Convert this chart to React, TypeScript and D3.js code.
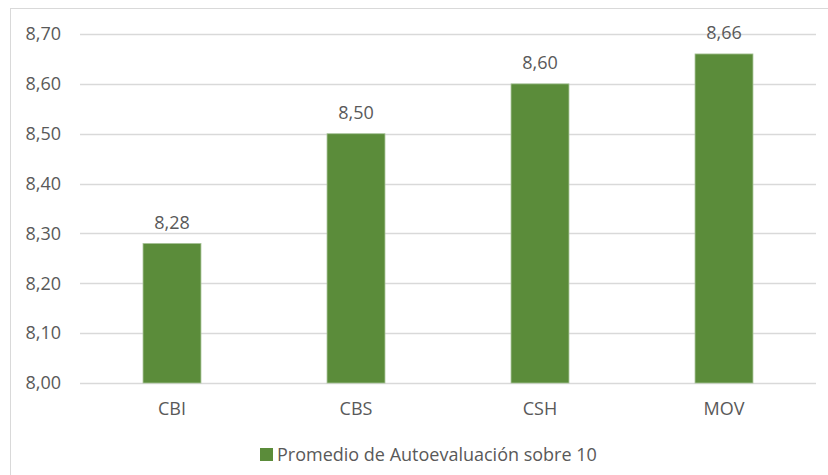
import { scaleBand, scaleLinear, range as d3range, format } from "d3";

const categories = ["CBI", "CBS", "CSH", "MOV"];
const values = [8.28, 8.5, 8.6, 8.66];
const seriesName = "Promedio de Autoevaluación sobre 10";
const yTicks = [8.0, 8.1, 8.2, 8.3, 8.4, 8.5, 8.6, 8.7];

const WIDTH = 828;
const HEIGHT = 475;
const PLOT = { left: 80, right: 816, top: 34, bottom: 383 };
const FONT = "'Open Sans', sans-serif";
const TEXT = "#595959";
const GRID = "#d9d9d9";
const BAR = "#5b8c3a";
const FS = 18;

const fmt = (v: number) => format(".2f")(v).replace(".", ",");

export default function App() {
  const x = scaleBand<string>()
    .domain(categories)
    .range([PLOT.left, PLOT.right])
    .paddingInner(0.685)
    .paddingOuter(0.3425);
  const y = scaleLinear().domain([8.0, 8.7]).range([PLOT.bottom, PLOT.top]);

  return (
    <div style={{ position: "absolute", left: 0, top: 0 }}>
      <svg width={WIDTH} height={HEIGHT} style={{ display: "block", background: "#fff" }} fontFamily={FONT}>
        {/* chart frame */}
        <rect x={10.5} y={8.5} width={830} height={480} fill="none" stroke={GRID} strokeWidth={1} />

        {/* gridlines + y labels */}
        {yTicks.map((t) => (
          <g key={t}>
            <line x1={PLOT.left} x2={PLOT.right} y1={Math.round(y(t)) + 0.5} y2={Math.round(y(t)) + 0.5} stroke={GRID} strokeWidth={1.3} />
            <text x={61} y={y(t)} dy="0.35em" textAnchor="end" fontSize={FS} fill={TEXT}>
              {fmt(t)}
            </text>
          </g>
        ))}

        {/* bars */}
        {d3range(categories.length).map((i) => {
          const c = categories[i];
          const v = values[i];
          const bx = x(c) ?? 0;
          const cx = bx + x.bandwidth() / 2;
          return (
            <g key={c}>
              <rect
                x={bx}
                y={y(v)}
                width={x.bandwidth()}
                height={y(8.0) - y(v)}
                fill={BAR}
                stroke="#a9c49a"
                strokeWidth={0.8}
              />
              <text x={cx} y={y(v) - 21} dy="0.35em" textAnchor="middle" fontSize={FS} fill={TEXT}>
                {fmt(v)}
              </text>
              <text x={cx} y={409} dy="0.35em" textAnchor="middle" fontSize={FS} fill={TEXT}>
                {c}
              </text>
            </g>
          );
        })}

        {/* legend */}
        <rect x={260} y={448} width={13} height={13} fill={BAR} />
        <text x={277} y={455} dy="0.35em" fontSize={FS} fill={TEXT}>
          {seriesName}
        </text>
      </svg>
    </div>
  );
}
